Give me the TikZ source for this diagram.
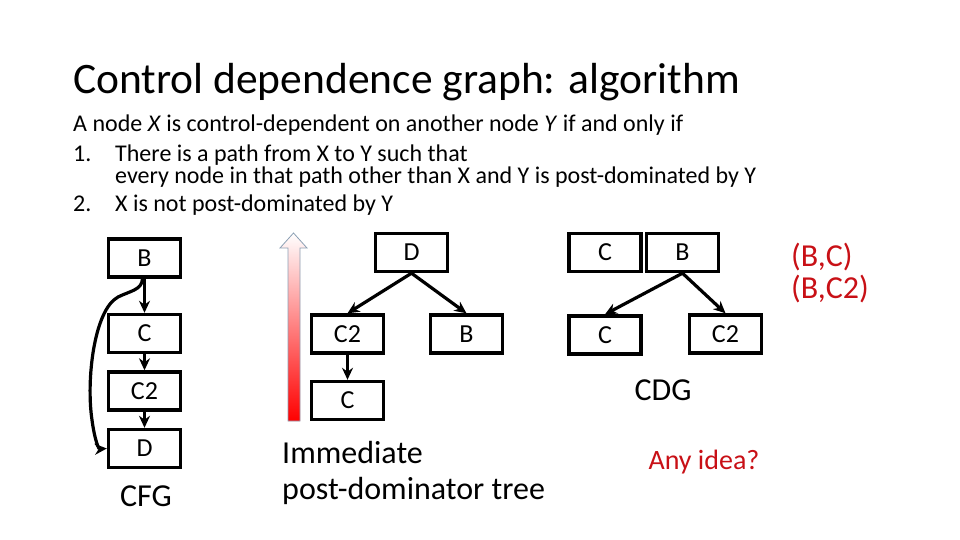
\documentclass[tikz,border=0pt]{standalone}
\usepackage{fontspec}
\setmainfont{Carlito}
\usepackage{xcolor}
\usetikzlibrary{arrows.meta}
\definecolor{slidered}{RGB}{200,16,22}
\definecolor{arrowrim}{RGB}{140,160,180}

\begin{document}
\begin{tikzpicture}[
    x=1pt, y=-1pt,
    box/.style={draw, line width=3.4pt, minimum width=72pt, minimum height=38pt,
      inner sep=0pt, font=\fontsize{26}{30}\selectfont},
    arr/.style={-{Stealth[length=12pt, width=11pt]}, line width=3.2pt},
    lbl/.style={font=\fontsize{32}{38}\selectfont, inner sep=0pt},
    txt/.style={font=\fontsize{24}{28}\selectfont, anchor=base west, inner sep=0pt}
  ]
  \useasboundingbox (0,0) rectangle (960,540);

  % ══ TITLE AND DEFINITION ═════════════════════════════════════════════════
  \node[font=\fontsize{43.5}{52}\selectfont, anchor=base west, inner sep=0pt]
    (title) at (73,94) {Control dependence graph: algorithm};
  \node[txt] (def) at (73,132)
    {A node \textit{X} is control-dependent on another node \textit{Y} if and only if};
  \node[txt] (numa) at (73,162) {1.};
  \node[txt, align=left, font=\fontsize{24}{20.5}\selectfont, anchor=north west]
    (rulea) at (115,145)
    {There is a path from X to Y such that\\
     every node in that path other than X and Y is post-dominated by Y};
  \node[txt] (numb) at (73,211) {2.};
  \node[txt] (rulec) at (115,211) {X is not post-dominated by Y};

  % ══ LEFT: CFG ════════════════════════════════════════════════════════════
  \node[box] (cfgB)  at (144.5,258)   {B};
  \node[box] (cfgC)  at (144.5,333.5) {C};
  \node[box] (cfgCC) at (144.5,391)   {C2};
  \node[box] (cfgD)  at (144.5,448.5) {D};
  \node[lbl] (cfgLbl) at (146,496) {CFG};

  \draw[arr] (cfgB) -- (cfgC);
  \draw[arr] (cfgC) -- (cfgCC);
  \draw[arr] (cfgCC) -- (cfgD);
  % back edge B -> D around the left side
  \draw[arr] ([xshift=-2pt]cfgB.south) .. controls (142,290) and (130,291) .. (118,297)
    .. controls (94,310) and (86,380) .. (92,420)
    .. controls (95,442) and (99,449) .. (cfgD.west);

  % ══ MIDDLE: post-dominator tree ══════════════════════════════════════════
  % shaded arrow pointing up
  \shade[top color=white, bottom color=red, draw=arrowrim, line width=0.8pt]
    (293.5,233) -- (307,248) -- (300,248) -- (300,421)
    -- (288,421) -- (288,248) -- (280,248) -- cycle;

  \node[box] (pdtD)  at (411.5,252.5) {D};
  \node[box] (pdtCC) at (347.5,334)   {C2};
  \node[box] (pdtB)  at (466.5,334)   {B};
  \node[box] (pdtC)  at (347.5,400.5) {C};

  \draw[arr] (pdtD.south) -- (pdtCC.north);
  \draw[arr] (pdtD.south) -- (pdtB.north);
  \draw[arr] (pdtCC) -- (pdtC);

  \node[lbl, anchor=base west] (pdtLblA) at (282,463) {Immediate};
  \node[lbl, anchor=base west] (pdtLblB) at (282,499) {post-dominator tree};

  % ══ RIGHT: CDG ═══════════════════════════════════════════════════════════
  \node[box] (cdgC)  at (605,252.5)   {C};
  \node[box] (cdgB)  at (682.5,252.5) {B};
  \node[box] (cdgCl) at (605,335)     {C};
  \node[box] (cdgCC) at (725.5,334)   {C2};

  \draw[arr] (cdgB.south) -- (cdgCl.north);
  \draw[arr] (cdgB.south) -- (cdgCC.north);

  \node[lbl] (cdgLbl) at (663,390) {CDG};
  \node[lbl, font=\fontsize{28}{32}\selectfont, text=slidered]
    (idea) at (704,462) {Any idea?};
  \node[lbl, text=slidered, anchor=west]
    (pairA) at (791,257) {(B,C)};
  \node[lbl, text=slidered, anchor=west]
    (pairB) at (791,289) {(B,C2)};

\end{tikzpicture}
\end{document}
